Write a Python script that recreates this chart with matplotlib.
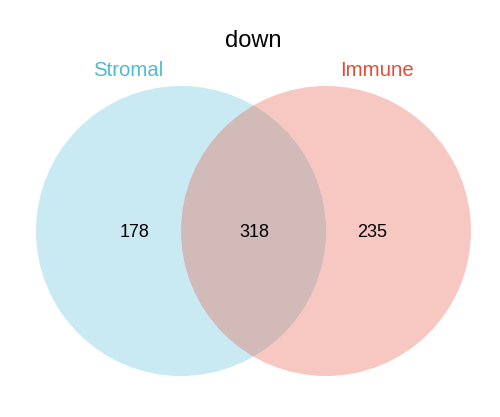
"""
Venn diagram of down-regulated genes
"""
import matplotlib
matplotlib.use("Agg")
import matplotlib.pyplot as plt
from matplotlib.patches import Circle

plt.rcParams['font.family'] = ['Liberation Sans', 'DejaVu Sans']

title = "down"
set_names = ["Stromal", "Immune"]
set_colors = ["#4DBBD5", "#E64B35"]
counts = [178, 318, 235]  # only left, both, only right


def draw_venn(ax):
    """ Draw two-set venn in pixel coordinates """
    centers = [(181, 231), (326, 231)]
    radius = 145
    for (cx, cy), col in zip(centers, set_colors):
        ax.add_patch(Circle((cx, cy), radius, facecolor=col, alpha=0.3,
                            edgecolor='none'))
    label_pos = [(128, 70), (377, 70)]
    for (x, y), name, col in zip(label_pos, set_names, set_colors):
        ax.text(x, y, name, color=col, fontsize=14.7, ha='center', va='center')
    num_x = [135, 254, 372]
    for x, n in zip(num_x, counts):
        ax.text(x, 232, str(n), fontsize=13, ha='center', va='center')
    ax.text(253, 41, title, fontsize=17, ha='center', va='center')


fig = plt.figure(figsize=(5, 4.17), dpi=100)
ax = fig.add_axes([0, 0, 1, 1])
ax.set_xlim(0, 500)
ax.set_ylim(417, 0)
ax.set_aspect('equal')
ax.axis('off')
draw_venn(ax)
plt.savefig("out.png", dpi=100)
